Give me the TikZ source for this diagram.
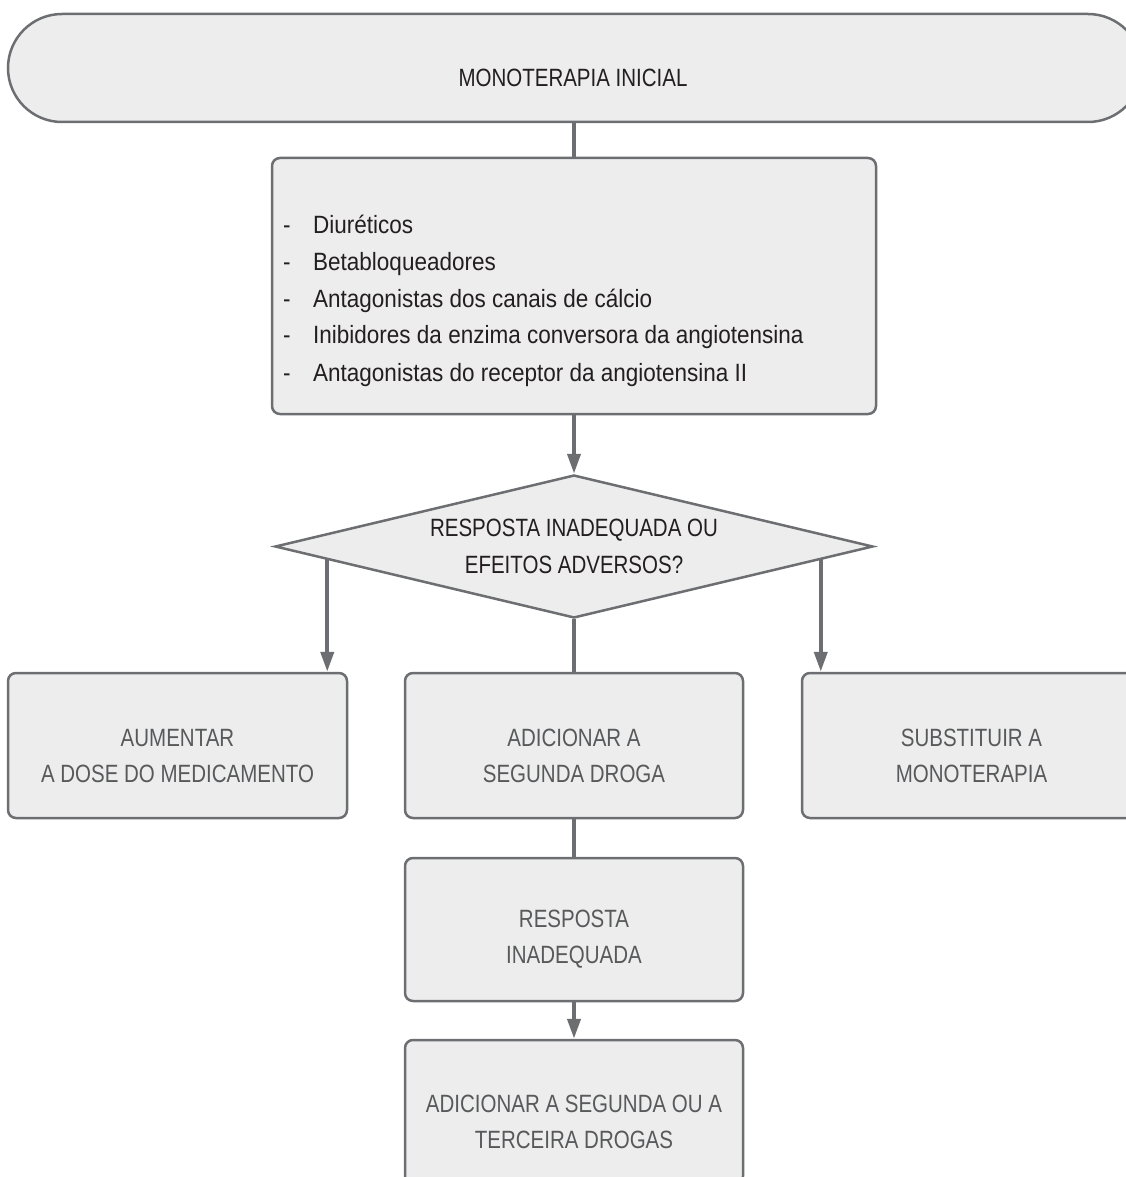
\documentclass[tikz,border=0pt]{standalone}
\usepackage{fontspec}
\setmainfont{Liberation Sans}[FakeStretch=0.82]
\newfontfamily\listfont{Liberation Sans}[FakeStretch=0.9]
\usetikzlibrary{shapes.geometric,arrows.meta,backgrounds}
\definecolor{edge}{HTML}{6D6E71}
\definecolor{boxfill}{HTML}{EDEDED}
\definecolor{darktxt}{HTML}{231F20}
\definecolor{graytxt}{HTML}{58595B}
\tikzset{
  flowbox/.style={draw=edge, fill=boxfill, line width=2.5pt, rounded corners=8pt, inner sep=0pt},
  boxtxt/.style={text=graytxt, align=center, inner sep=0pt, font=\fontsize{25}{36}\selectfont},
  darkboxtxt/.style={text=darktxt, align=center, inner sep=0pt, font=\fontsize{25}{36}\selectfont},
  conn/.style={draw=edge, line width=4pt},
  arr/.style={conn, -{Triangle[length=20pt,width=13pt]}},
}
\begin{document}
\begin{tikzpicture}[x=1pt,y=-1pt]
\useasboundingbox (0,0) rectangle (1126,1177);
\clip (0,0) rectangle (1126,1177);
% terminator
\node[flowbox, rounded corners=54pt, minimum width=1134pt, minimum height=108pt] (top) at (575,68) {};
\node[darkboxtxt] (toptxt) at (573,77.5) {MONOTERAPIA INICIAL};
% list box
\node[flowbox, minimum width=604pt, minimum height=256pt] (b1) at (574,286) {};
\node[anchor=base west, inner sep=0pt, text=darktxt, font=\listfont\fontsize{25}{37}\selectfont] (list) at (283,233) {%
\begin{tabular}[t]{@{}p{30pt}@{}l@{}}
- & Diuréticos\\
- & Betabloqueadores\\
- & Antagonistas dos canais de cálcio\\
- & Inibidores da enzima conversora da angiotensina\\
- & Antagonistas do receptor da angiotensina II
\end{tabular}};
% decision
\node[diamond, draw=edge, fill=boxfill, line width=2.5pt, minimum width=598pt, minimum height=143pt, inner sep=0pt, aspect=4.2,
      text=darktxt, align=center, font=\fontsize{25}{37}\selectfont] (d) at (574,546.5)
      {RESPOSTA INADEQUADA OU\\EFEITOS ADVERSOS?};
% three boxes
\node[flowbox, minimum width=339pt, minimum height=145pt] (lb) at (177.5,745.5) {};
\node[boxtxt] (lbt) at (177.5,756) {AUMENTAR\\A DOSE DO MEDICAMENTO};
\node[flowbox, minimum width=338pt, minimum height=145pt] (mb) at (574,745.5) {};
\node[boxtxt] (mbt) at (574,756) {ADICIONAR A\\SEGUNDA DROGA};
\node[flowbox, minimum width=339pt, minimum height=145pt] (rb) at (971.5,745.5) {};
\node[boxtxt] (rbt) at (971.5,756) {SUBSTITUIR A\\MONOTERAPIA};
% resposta inadequada
\node[flowbox, minimum width=338pt, minimum height=143pt] (rr) at (574,929.5) {};
\node[boxtxt] (rrt) at (574,939) {RESPOSTA\\INADEQUADA};
% last
\node[flowbox, minimum width=338pt, minimum height=144pt] (lastb) at (574,1112) {};
\node[boxtxt] (lastt) at (574,1121.5) {ADICIONAR A SEGUNDA OU A\\TERCEIRA DROGAS};
% connectors
\begin{scope}[on background layer]
\draw[conn] (b1.north |- top.south) -- (b1.north);
\draw[arr] (d.north |- b1.south) -- (d.north);
\draw[arr] ([xshift=-21pt]lb.north east |- d.center) -- ([xshift=-21pt]lb.north east);
\draw[arr] ([xshift=20pt]rb.north west |- d.center) -- ([xshift=20pt]rb.north west);
\draw[conn] (d.south) -- (mb.north);
\draw[conn] (mb.south) -- (rr.north);
\draw[arr] (rr.south) -- (lastb.north);
\end{scope}
\end{tikzpicture}
\end{document}
